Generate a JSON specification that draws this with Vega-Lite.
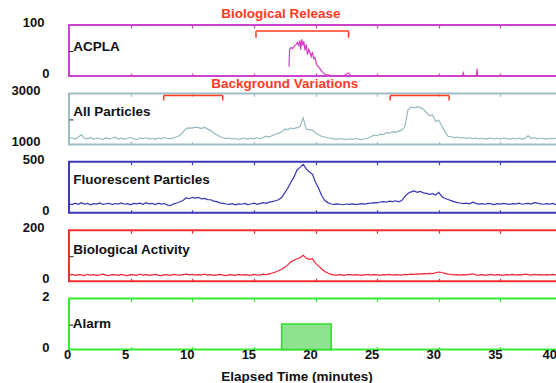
{
  "$schema": "https://vega.github.io/schema/vega-lite/v6.json",
  "padding": {"left": 10, "top": 5, "right": 0, "bottom": 5},
  "background": "white",
  "bounds": "flush",
  "spacing": 17.4,
  "config": {
    "font": "Liberation Sans",
    "view": {"strokeWidth": 2},
    "axis": {"domain": false, "grid": false, "labelFont": "Liberation Sans", "labelFontWeight": "bold", "labelFontSize": 13, "labelColor": "#111", "titleFont": "Liberation Sans", "titleFontWeight": "bold", "titleFontSize": 13.5, "titleColor": "#111"},
    "axisX": {"tickSize": -3, "tickWidth": 1.2, "labels": false},
    "axisY": {"tickSize": -4, "tickWidth": 1, "labelOffset": -2.5, "labelAlign": "right", "format": "d"},
    "text": {"font": "Liberation Sans", "fontWeight": "bold", "fontSize": 13.5, "baseline": "middle", "align": "left", "color": "#111"}
  },
  "datasets": {
    "main": [
      {"t":0,"p":1230,"f":88,"b":24},{"t":0.25,"p":1260,"f":80,"b":27},{"t":0.5,"p":1210,"f":95,"b":23},{"t":0.75,"p":1290,"f":84,"b":26},
      {"t":1,"p":1380,"f":100,"b":25},{"t":1.25,"p":1240,"f":86,"b":22},{"t":1.5,"p":1220,"f":92,"b":27},{"t":1.75,"p":1270,"f":78,"b":24},
      {"t":2,"p":1200,"f":90,"b":26},{"t":2.25,"p":1250,"f":85,"b":23},{"t":2.5,"p":1230,"f":96,"b":25},{"t":2.75,"p":1190,"f":82,"b":28},
      {"t":3,"p":1260,"f":89,"b":24},{"t":3.25,"p":1220,"f":93,"b":22},{"t":3.5,"p":1240,"f":80,"b":26},{"t":3.75,"p":1280,"f":91,"b":25},
      {"t":4,"p":1210,"f":86,"b":23},{"t":4.25,"p":1250,"f":97,"b":27},{"t":4.5,"p":1200,"f":84,"b":24},{"t":4.75,"p":1240,"f":90,"b":22},
      {"t":5,"p":1270,"f":78,"b":26},{"t":5.25,"p":1220,"f":92,"b":25},{"t":5.5,"p":1190,"f":88,"b":23},{"t":5.75,"p":1250,"f":95,"b":28},
      {"t":6,"p":1230,"f":83,"b":24},{"t":6.25,"p":1260,"f":99,"b":26},{"t":6.5,"p":1210,"f":87,"b":23},{"t":6.75,"p":1240,"f":92,"b":25},
      {"t":7,"p":1200,"f":80,"b":27},{"t":7.25,"p":1250,"f":94,"b":24},{"t":7.5,"p":1230,"f":86,"b":22},{"t":7.75,"p":1270,"f":91,"b":26},
      {"t":8,"p":1240,"f":75,"b":25},{"t":8.25,"p":1220,"f":72,"b":23},{"t":8.5,"p":1260,"f":88,"b":27},{"t":8.75,"p":1300,"f":96,"b":25},
      {"t":9,"p":1350,"f":108,"b":24},{"t":9.25,"p":1480,"f":120,"b":26},{"t":9.5,"p":1620,"f":145,"b":28},{"t":9.75,"p":1650,"f":138,"b":25},
      {"t":10,"p":1640,"f":152,"b":27},{"t":10.25,"p":1680,"f":144,"b":24},{"t":10.5,"p":1660,"f":150,"b":26},{"t":10.75,"p":1630,"f":136,"b":25},
      {"t":11,"p":1670,"f":141,"b":28},{"t":11.25,"p":1600,"f":130,"b":24},{"t":11.5,"p":1540,"f":128,"b":26},{"t":11.75,"p":1450,"f":115,"b":23},
      {"t":12,"p":1380,"f":110,"b":25},{"t":12.25,"p":1300,"f":98,"b":27},{"t":12.5,"p":1260,"f":92,"b":24},{"t":12.75,"p":1230,"f":86,"b":22},
      {"t":13,"p":1250,"f":82,"b":26},{"t":13.25,"p":1210,"f":90,"b":25},{"t":13.5,"p":1240,"f":78,"b":23},{"t":13.75,"p":1190,"f":88,"b":27},
      {"t":14,"p":1230,"f":84,"b":24},{"t":14.25,"p":1250,"f":92,"b":26},{"t":14.5,"p":1200,"f":80,"b":25},{"t":14.75,"p":1240,"f":86,"b":23},
      {"t":15,"p":1220,"f":95,"b":27},{"t":15.25,"p":1260,"f":83,"b":25},{"t":15.5,"p":1230,"f":90,"b":24},{"t":15.75,"p":1270,"f":99,"b":28},
      {"t":16,"p":1320,"f":92,"b":26},{"t":16.25,"p":1290,"f":104,"b":29},{"t":16.5,"p":1350,"f":110,"b":32},{"t":16.75,"p":1400,"f":118,"b":36},
      {"t":17,"p":1430,"f":128,"b":41},{"t":17.25,"p":1500,"f":150,"b":47},{"t":17.5,"p":1600,"f":195,"b":55},{"t":17.75,"p":1580,"f":240,"b":64},
      {"t":18,"p":1640,"f":300,"b":76},{"t":18.25,"p":1620,"f":350,"b":82},{"t":18.5,"p":1660,"f":420,"b":88},{"t":18.75,"p":1700,"f":445,"b":92},
      {"t":19,"p":2040,"f":475,"b":102},{"t":19.25,"p":1600,"f":430,"b":90},{"t":19.5,"p":1580,"f":400,"b":86},{"t":19.75,"p":1560,"f":380,"b":88},
      {"t":20,"p":1450,"f":300,"b":70},{"t":20.25,"p":1380,"f":240,"b":60},{"t":20.5,"p":1320,"f":170,"b":48},{"t":20.75,"p":1290,"f":120,"b":38},
      {"t":21,"p":1260,"f":100,"b":32},{"t":21.25,"p":1240,"f":86,"b":27},{"t":21.5,"p":1220,"f":82,"b":25},{"t":21.75,"p":1200,"f":88,"b":24},
      {"t":22,"p":1230,"f":84,"b":26},{"t":22.25,"p":1210,"f":79,"b":23},{"t":22.5,"p":1190,"f":86,"b":25},{"t":22.75,"p":1220,"f":82,"b":27},
      {"t":23,"p":1200,"f":88,"b":24},{"t":23.25,"p":1230,"f":80,"b":26},{"t":23.5,"p":1210,"f":85,"b":25},{"t":23.75,"p":1190,"f":90,"b":23},
      {"t":24,"p":1220,"f":86,"b":25},{"t":24.25,"p":1250,"f":92,"b":27},{"t":24.5,"p":1300,"f":95,"b":24},{"t":24.75,"p":1360,"f":100,"b":26},
      {"t":25,"p":1340,"f":98,"b":25},{"t":25.25,"p":1400,"f":106,"b":23},{"t":25.5,"p":1380,"f":110,"b":26},{"t":25.75,"p":1460,"f":104,"b":25},
      {"t":26,"p":1440,"f":115,"b":27},{"t":26.25,"p":1500,"f":110,"b":24},{"t":26.5,"p":1470,"f":118,"b":26},{"t":26.75,"p":1520,"f":108,"b":25},
      {"t":27,"p":1560,"f":120,"b":24},{"t":27.25,"p":1700,"f":160,"b":27},{"t":27.5,"p":2350,"f":190,"b":26},{"t":27.75,"p":2460,"f":205,"b":28},
      {"t":28,"p":2430,"f":215,"b":27},{"t":28.25,"p":2470,"f":200,"b":29},{"t":28.5,"p":2440,"f":210,"b":28},{"t":28.75,"p":2380,"f":195,"b":30},
      {"t":29,"p":2250,"f":190,"b":29},{"t":29.25,"p":2130,"f":180,"b":31},{"t":29.5,"p":2150,"f":188,"b":30},{"t":29.75,"p":1900,"f":175,"b":33},
      {"t":30,"p":1950,"f":200,"b":36},{"t":30.25,"p":1720,"f":160,"b":34},{"t":30.5,"p":1500,"f":140,"b":31},{"t":30.75,"p":1320,"f":130,"b":28},
      {"t":31,"p":1300,"f":120,"b":27},{"t":31.25,"p":1270,"f":110,"b":25},{"t":31.5,"p":1290,"f":100,"b":26},{"t":31.75,"p":1250,"f":96,"b":24},
      {"t":32,"p":1270,"f":90,"b":26},{"t":32.25,"p":1240,"f":94,"b":25},{"t":32.5,"p":1260,"f":88,"b":27},{"t":32.75,"p":1230,"f":104,"b":29},
      {"t":33,"p":1250,"f":92,"b":25},{"t":33.25,"p":1220,"f":86,"b":24},{"t":33.5,"p":1240,"f":90,"b":26},{"t":33.75,"p":1210,"f":84,"b":23},
      {"t":34,"p":1230,"f":92,"b":25},{"t":34.25,"p":1250,"f":87,"b":27},{"t":34.5,"p":1220,"f":80,"b":24},{"t":34.75,"p":1240,"f":90,"b":26},
      {"t":35,"p":1210,"f":85,"b":25},{"t":35.25,"p":1250,"f":93,"b":23},{"t":35.5,"p":1230,"f":88,"b":26},{"t":35.75,"p":1200,"f":82,"b":25},
      {"t":36,"p":1240,"f":90,"b":27},{"t":36.25,"p":1220,"f":86,"b":24},{"t":36.5,"p":1250,"f":94,"b":26},{"t":36.75,"p":1210,"f":84,"b":25},
      {"t":37,"p":1230,"f":89,"b":28},{"t":37.25,"p":1340,"f":92,"b":26},{"t":37.5,"p":1240,"f":86,"b":24},{"t":37.75,"p":1260,"f":100,"b":27},
      {"t":38,"p":1220,"f":95,"b":25},{"t":38.25,"p":1250,"f":88,"b":26},{"t":38.5,"p":1230,"f":84,"b":24},{"t":38.75,"p":1210,"f":90,"b":26},
      {"t":39,"p":1240,"f":86,"b":25},{"t":39.25,"p":1220,"f":92,"b":27},{"t":39.5,"p":1250,"f":80,"b":24},{"t":39.75,"p":1230,"f":88,"b":26},
      {"t":40,"p":1240,"f":85,"b":25}
    ],
    "acpla": [
      {"t":17.85,"a":18},{"t":17.9,"a":52},{"t":18.0,"a":56},{"t":18.15,"a":54},{"t":18.3,"a":59},{"t":18.45,"a":62},{"t":18.55,"a":66},
      {"t":18.65,"a":60},{"t":18.74,"a":70},{"t":18.8,"a":52},{"t":18.9,"a":72},{"t":18.97,"a":60},{"t":19.05,"a":68},{"t":19.15,"a":50},
      {"t":19.25,"a":62},{"t":19.35,"a":42},{"t":19.45,"a":52},{"t":19.55,"a":46},{"t":19.65,"a":38},{"t":19.75,"a":47},{"t":19.85,"a":34},
      {"t":19.95,"a":36},{"t":20.05,"a":26},{"t":20.15,"a":20},{"t":20.3,"a":17},{"t":20.45,"a":11},{"t":20.6,"a":7},{"t":20.8,"a":3},
      {"t":21.1,"a":2},{"t":21.4,"a":1},{"t":21.8,"a":0},{"t":22.3,"a":0},{"t":22.5,"a":4},{"t":22.7,"a":6},{"t":22.85,"a":0},
      {"t":31.9,"a":0},{"t":32.0,"a":6},{"t":32.05,"a":0},{"t":33.05,"a":0},{"t":33.1,"a":14},{"t":33.15,"a":0},{"t":40,"a":0}
    ]
  },
  "vconcat": [
    {
      "width": 493, "height": 51,
      "view": {"stroke": "#cc44cc"},
      "resolve": {"axis": {"x": "independent", "y": "independent"}},
      "layer": [
        {"data": {"name": "acpla"}, "mark": {"type": "line", "color": "#d43cc4", "strokeWidth": 1.2},
         "encoding": {
           "x": {"field": "t", "type": "quantitative", "scale": {"domain": [0, 40], "nice": false}, "axis": {"orient": "bottom", "values": [0, 5, 10, 15, 20, 25, 30, 35, 40], "tickColor": "#cc44cc", "title": null}},
           "y": {"field": "a", "type": "quantitative", "scale": {"domain": [0, 100], "nice": false}, "axis": {"orient": "left", "values": [0, 50, 100], "title": null, "labelExpr": "datum.value == 50 ? '' : datum.label", "labelPadding": {"condition": {"test": "datum.value == 0", "value": 24}, "value": 29}, "tickColor": {"condition": {"test": "datum.value == 50", "value": "#222"}, "value": "transparent"}}}}},
        {"data": {"values": [{"t": 0.35, "v": 56, "label": "ACPLA"}]}, "mark": {"type": "text"},
         "encoding": {
           "x": {"field": "t", "type": "quantitative", "axis": {"orient": "top", "values": [0, 5, 10, 15, 20, 25, 30, 35, 40], "tickColor": "#cc44cc", "title": null}},
           "y": {"field": "v", "type": "quantitative", "axis": null},
           "text": {"field": "label"}}},
        {"data": {"values": [{"x1": 15.17, "x2": 22.68, "y1": 88, "y2": 88}, {"x1": 15.17, "x2": 15.17, "y1": 88, "y2": 75}, {"x1": 22.68, "x2": 22.68, "y1": 88, "y2": 75}]},
         "mark": {"type": "rule", "color": "#ff3b1f", "strokeWidth": 1.5},
         "encoding": {
           "x": {"field": "x1", "type": "quantitative", "axis": null}, "x2": {"field": "x2"},
           "y": {"field": "y1", "type": "quantitative", "axis": null}, "y2": {"field": "y2"}}},
        {"data": {"values": [{"t": 17.2, "v": 122, "label": "Biological Release"}]}, "mark": {"type": "text", "align": "center", "color": "#ff3b1f"},
         "encoding": {
           "x": {"field": "t", "type": "quantitative", "axis": null},
           "y": {"field": "v", "type": "quantitative", "axis": null},
           "text": {"field": "label"}}}
      ]
    },
    {
      "width": 493, "height": 51,
      "view": {"stroke": "#9dbdc5"},
      "resolve": {"axis": {"x": "independent", "y": "independent"}},
      "layer": [
        {"data": {"name": "main"}, "mark": {"type": "line", "color": "#96b8c0", "strokeWidth": 1.2},
         "encoding": {
           "x": {"field": "t", "type": "quantitative", "scale": {"domain": [0, 40], "nice": false}, "axis": {"orient": "bottom", "values": [0, 5, 10, 15, 20, 25, 30, 35, 40], "tickColor": "#9dbdc5", "title": null}},
           "y": {"field": "p", "type": "quantitative", "scale": {"domain": [1000, 3000], "nice": false, "zero": false}, "axis": {"orient": "left", "values": [1000, 2000, 3000], "title": null, "labelExpr": "datum.value == 2000 ? '' : datum.label", "labelPadding": 33, "tickColor": {"condition": {"test": "datum.value == 2000", "value": "#222"}, "value": "transparent"}}}}},
        {"data": {"values": [{"t": 0.35, "v": 2264, "label": "All Particles"}]}, "mark": {"type": "text"},
         "encoding": {
           "x": {"field": "t", "type": "quantitative", "axis": {"orient": "top", "values": [0, 5, 10, 15, 20, 25, 30, 35, 40], "tickColor": "#9dbdc5", "title": null}},
           "y": {"field": "v", "type": "quantitative", "axis": null},
           "text": {"field": "label"}}},
        {"data": {"values": [{"x1": 7.68, "x2": 12.47, "y1": 2920, "y2": 2920}, {"x1": 7.68, "x2": 7.68, "y1": 2920, "y2": 2720}, {"x1": 12.47, "x2": 12.47, "y1": 2920, "y2": 2720}, {"x1": 26.06, "x2": 30.84, "y1": 2920, "y2": 2920}, {"x1": 26.06, "x2": 26.06, "y1": 2920, "y2": 2720}, {"x1": 30.84, "x2": 30.84, "y1": 2920, "y2": 2720}]},
         "mark": {"type": "rule", "color": "#ff3b1f", "strokeWidth": 1.5},
         "encoding": {
           "x": {"field": "x1", "type": "quantitative", "axis": null}, "x2": {"field": "x2"},
           "y": {"field": "y1", "type": "quantitative", "axis": null}, "y2": {"field": "y2"}}},
        {"data": {"values": [{"t": 17.5, "v": 3360, "label": "Background Variations"}]}, "mark": {"type": "text", "align": "center", "color": "#ff3b1f"},
         "encoding": {
           "x": {"field": "t", "type": "quantitative", "axis": null},
           "y": {"field": "v", "type": "quantitative", "axis": null},
           "text": {"field": "label"}}}
      ]
    },
    {
      "width": 493, "height": 51,
      "view": {"stroke": "#3a3abb"},
      "resolve": {"axis": {"x": "independent", "y": "independent"}},
      "layer": [
        {"data": {"name": "main"}, "mark": {"type": "line", "color": "#3535b5", "strokeWidth": 1.2},
         "encoding": {
           "x": {"field": "t", "type": "quantitative", "scale": {"domain": [0, 40], "nice": false}, "axis": {"orient": "bottom", "values": [0, 5, 10, 15, 20, 25, 30, 35, 40], "tickColor": "#3a3abb", "title": null}},
           "y": {"field": "f", "type": "quantitative", "scale": {"domain": [0, 500], "nice": false}, "axis": {"orient": "left", "values": [0, 500], "title": null, "labelPadding": {"condition": {"test": "datum.value == 0", "value": 24}, "value": 29}, "tickColor": "transparent"}}}},
        {"data": {"values": [{"t": 0.35, "v": 319, "label": "Fluorescent Particles"}]}, "mark": {"type": "text"},
         "encoding": {
           "x": {"field": "t", "type": "quantitative", "axis": {"orient": "top", "values": [0, 5, 10, 15, 20, 25, 30, 35, 40], "tickColor": "#3a3abb", "title": null}},
           "y": {"field": "v", "type": "quantitative", "axis": null},
           "text": {"field": "label"}}}
      ]
    },
    {
      "width": 493, "height": 51,
      "view": {"stroke": "#f03030"},
      "resolve": {"axis": {"x": "independent", "y": "independent"}},
      "layer": [
        {"data": {"name": "main"}, "mark": {"type": "line", "color": "#ee2438", "strokeWidth": 1.2},
         "encoding": {
           "x": {"field": "t", "type": "quantitative", "scale": {"domain": [0, 40], "nice": false}, "axis": {"orient": "bottom", "values": [0, 5, 10, 15, 20, 25, 30, 35, 40], "tickColor": "#f03030", "title": null}},
           "y": {"field": "b", "type": "quantitative", "scale": {"domain": [0, 200], "nice": false}, "axis": {"orient": "left", "values": [0, 100, 200], "title": null, "labelExpr": "datum.value == 100 ? '' : datum.label", "labelPadding": {"condition": {"test": "datum.value == 0", "value": 24}, "value": 29}, "tickColor": {"condition": {"test": "datum.value == 100", "value": "#222"}, "value": "transparent"}}}}},
        {"data": {"values": [{"t": 0.35, "v": 121, "label": "Biological Activity"}]}, "mark": {"type": "text"},
         "encoding": {
           "x": {"field": "t", "type": "quantitative", "axis": {"orient": "top", "values": [0, 5, 10, 15, 20, 25, 30, 35, 40], "tickColor": "#f03030", "title": null}},
           "y": {"field": "v", "type": "quantitative", "axis": null},
           "text": {"field": "label"}}}
      ]
    },
    {
      "width": 493, "height": 51,
      "view": {"stroke": "#33ee33"},
      "resolve": {"axis": {"x": "independent", "y": "independent"}},
      "layer": [
        {"data": {"values": [{"start": 17.25, "end": 21.27, "level": 1, "base": 0}]}, "mark": {"type": "rect", "fill": "#8ee48e", "stroke": "#2fdd2f", "strokeWidth": 1.5},
         "encoding": {
           "x": {"field": "start", "type": "quantitative", "scale": {"domain": [0, 40], "nice": false}, "axis": {"orient": "bottom", "values": [0, 5, 10, 15, 20, 25, 30, 35, 40], "tickColor": "#33ee33", "labels": true, "labelPadding": 2, "labelOffset": -5.5, "title": "Elapsed Time (minutes)", "titleX": 227.5, "titleY": 27, "titleBaseline": "middle", "titleAlign": "center"}},
           "x2": {"field": "end"},
           "y": {"field": "level", "type": "quantitative", "scale": {"domain": [0, 2], "nice": false}, "axis": {"orient": "left", "values": [0, 1, 2], "title": null, "labelExpr": "datum.value == 1 ? '' : datum.label", "labelPadding": 24, "tickColor": {"condition": {"test": "datum.value == 1", "value": "#222"}, "value": "transparent"}}},
           "y2": {"field": "base"}}},
        {"data": {"values": [{"t": 0.3, "v": 1.01, "label": "Alarm"}]}, "mark": {"type": "text"},
         "encoding": {
           "x": {"field": "t", "type": "quantitative", "axis": {"orient": "top", "values": [0, 5, 10, 15, 20, 25, 30, 35, 40], "tickColor": "#33ee33", "title": null}},
           "y": {"field": "v", "type": "quantitative", "axis": null},
           "text": {"field": "label"}}}
      ]
    }
  ]
}
